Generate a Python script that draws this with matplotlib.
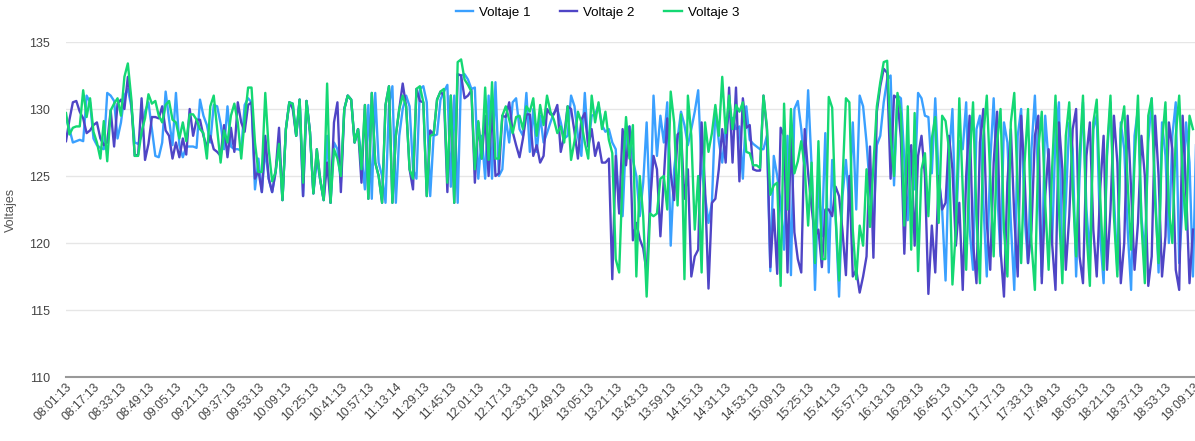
import numpy as np
import matplotlib.pyplot as plt

plt.rcParams['font.family'] = ['Liberation Sans', 'DejaVu Sans']

# voltage readings, one every ~2 minutes
voltaje_1 = [
    129.3, 128.5, 127.5, 127.6, 127.7, 127.6, 131.0, 130.5, 127.8, 127.3,
    127.1, 127.0, 131.2, 131.0, 130.6, 127.8, 129.0, 131.0, 131.5, 130.2,
    127.5, 127.4, 128.0, 129.8, 130.5, 128.5, 126.5, 126.4,
    127.5, 131.3, 129.2, 127.3, 131.2, 127.3, 126.4, 127.2, 127.2, 127.2,
    127.1, 130.7, 129.5, 128.8, 127.5, 130.3, 130.2, 128.9, 127.0, 130.2,
    127.2, 127.0, 127.0, 126.9, 130.3, 130.8, 130.5, 124.0, 126.3,
    123.8, 127.0, 124.8, 123.8, 125.3, 127.4, 123.2, 128.5, 130.5, 130.4,
    128.0, 130.7, 123.5, 130.6, 128.3, 123.7, 126.2, 124.7, 123.2, 128.0,
    123.0, 127.5, 127.0, 124.5, 130.0, 131.0, 130.7, 127.5, 128.5,
    126.5, 124.0, 130.3, 123.3, 131.2, 126.0, 125.0, 123.0, 130.3, 131.7,
    123.0, 128.0, 130.0, 131.0, 130.2, 125.5, 124.8, 131.5, 131.7, 130.5,
    123.5, 128.0, 128.1, 130.7, 131.3, 131.8, 124.2, 131.0, 123.0, 132.5,
    132.6, 132.2, 131.5, 131.6, 124.8, 128.0, 124.8, 131.0, 124.8, 132.0,
    125.0, 125.5, 129.3, 127.5, 130.5, 130.8, 128.5, 128.0, 131.2, 126.8,
    130.0, 126.8, 129.5, 127.5, 128.2, 129.0, 129.7, 130.0, 129.0,
    127.8, 128.0, 131.0, 130.2, 128.0, 126.5, 131.2, 127.2, 129.5, 129.6,
    130.3, 128.8, 128.3, 128.5, 127.5, 127.0, 122.5, 122.0, 128.0, 128.7,
    126.2, 125.0, 122.0, 124.5, 129.0, 122.0, 131.0, 126.5, 129.5,
    127.5, 130.5, 119.8, 125.5, 127.8, 129.8, 128.8, 127.3, 128.5, 129.8,
    131.4, 125.5, 123.5, 121.5, 123.0, 130.0, 127.6, 126.0, 128.5, 129.5,
    129.3, 128.5, 128.7, 124.8, 130.2, 127.7, 127.4, 127.2, 127.0,
    127.0, 128.0, 117.9, 126.5, 125.0, 123.0, 119.5, 128.0, 117.6, 130.0,
    130.6, 128.5, 125.5, 131.4, 125.8, 116.5, 124.5, 120.5, 128.2, 117.8,
    126.2, 122.0, 116.0, 123.5, 126.2, 122.8, 129.0, 122.5, 131.0,
    130.2, 127.5, 124.0, 121.2, 127.3, 128.0, 130.5, 132.2, 132.5, 124.3,
    131.0, 130.8, 126.3, 121.7, 127.0, 124.0, 131.2, 130.8, 129.5, 129.4,
    125.2, 130.8, 124.8, 122.5, 117.2, 126.5, 130.0, 120.5, 127.6,
    127.0, 130.5, 121.0, 118.0, 128.5, 129.5, 123.0, 117.5, 126.0, 130.8,
    124.0, 119.0, 129.0, 127.5, 121.5, 116.5, 128.0, 130.0, 122.0, 118.5,
    127.0, 131.0, 124.5, 117.5, 129.5, 126.0, 120.0, 128.0, 130.5, 118.0,
    123.0, 129.0, 127.0, 117.5, 125.0, 130.5, 122.5, 119.0, 128.5, 129.5,
    120.5, 117.0, 126.5, 130.5, 123.5, 118.0, 129.0, 127.0, 121.0, 116.5,
    128.0, 130.0, 122.0, 119.0, 127.5, 130.8, 124.0, 117.8, 129.0, 126.5,
    120.0, 128.0, 130.5, 118.5, 123.0, 129.0, 126.0, 117.5, 128.5,
]

voltaje_2 = [
    127.6, 129.2, 130.5, 130.6, 129.8, 129.3, 128.2, 128.4, 128.8, 129.0,
    127.8, 127.3, 127.5, 129.9, 127.2, 130.4, 130.7, 130.0, 132.4, 130.5,
    126.5, 126.6, 130.8, 126.2, 127.4, 129.4, 129.4, 129.3,
    130.2, 128.4, 128.0, 126.3, 127.5, 126.4, 127.8, 126.6, 130.0, 128.0,
    129.2, 129.2, 128.0, 127.2, 128.0, 127.0, 126.8, 126.5, 128.8, 126.4,
    128.6, 126.8, 130.5, 129.0, 128.3, 130.3, 130.5, 124.8, 125.4,
    123.8, 128.0, 124.8, 123.8, 125.3, 128.6, 123.2, 128.5, 130.5, 130.0,
    128.0, 130.7, 123.5, 130.6, 128.3, 123.7, 127.0, 124.7, 123.2, 126.0,
    123.0, 129.0, 130.5, 123.8, 130.0, 131.0, 130.7, 127.5, 128.5,
    124.5, 130.3, 123.3, 131.2, 126.0, 125.0, 123.0, 130.3, 131.7,
    123.0, 128.0, 130.0, 131.9, 130.2, 125.5, 124.0, 131.5, 130.6, 130.5,
    123.5, 128.4, 128.1, 130.7, 131.3, 131.0, 123.8, 131.0, 123.0, 132.6,
    132.5, 130.8, 131.0, 131.4, 124.5, 129.0, 126.3, 129.5, 125.0, 130.2,
    125.0, 125.2, 129.5, 129.4, 130.5, 128.3, 127.3, 126.4, 127.8, 129.6,
    129.6, 126.5, 127.3, 126.0, 126.5, 130.0, 129.6, 129.6, 130.3,
    126.8, 128.0, 130.2, 130.0, 128.3, 126.3, 129.2, 129.7, 127.2, 128.5,
    126.5, 127.5, 126.0, 126.0, 126.3, 117.3, 126.5, 122.2, 128.5, 125.8,
    128.7, 120.2, 121.5, 120.3, 119.6, 117.8, 123.0, 126.5, 125.5,
    120.5, 124.8, 129.3, 125.2, 123.2, 128.1, 128.3, 123.3, 125.5, 117.5,
    119.0, 119.5, 129.0, 124.0, 116.6, 123.0, 123.3, 125.5, 128.5, 126.0,
    131.6, 126.0, 131.6, 124.6, 130.8, 128.6, 128.8, 125.5, 125.4,
    125.4, 131.0, 128.5, 118.2, 122.5, 117.7, 128.6, 128.0, 117.8, 128.3,
    120.8, 118.8, 117.8, 128.5, 125.2, 122.7, 120.5, 121.0, 118.2, 122.5,
    122.5, 122.0, 124.2, 123.5, 120.9, 117.6, 125.0, 117.5, 118.0,
    116.3, 117.5, 119.0, 127.2, 118.9, 129.8, 131.7, 133.0, 132.7, 124.8,
    131.0, 130.8, 127.8, 119.2, 126.5, 127.3, 119.8, 126.5, 128.0, 125.0,
    116.2, 121.3, 117.8, 125.0, 122.5, 123.0, 128.0, 125.5, 119.8,
    123.0, 116.5, 125.0, 129.5, 120.0, 117.0, 127.5, 130.0, 121.5, 118.0,
    126.0, 129.8, 119.5, 116.0, 124.5, 128.5, 122.0, 117.5, 129.5, 125.0,
    118.5, 121.0, 128.0, 129.5, 117.0, 123.5, 127.0, 120.0, 116.5, 129.0,
    125.5, 118.0, 122.0, 128.5, 130.0, 119.0, 117.0, 126.5, 129.0, 121.0,
    117.5, 124.0, 128.0, 118.0, 122.5, 129.5, 126.0, 117.0, 120.0, 129.5,
    124.0, 118.0, 121.5, 128.0, 125.0, 116.8, 119.0, 129.5, 125.0, 117.5,
    120.5, 129.0, 127.0, 118.0, 116.5, 129.5, 124.0, 117.0, 121.0,
]

voltaje_3 = [
    129.7, 128.1, 128.6, 128.7, 128.7, 131.4, 129.4, 130.8, 128.3, 127.5,
    126.3, 129.1, 126.1, 129.9, 130.4, 130.8, 129.5, 132.4, 133.4, 130.8,
    126.5, 126.5, 128.3, 129.3, 131.1, 130.4, 130.6, 129.5,
    129.0, 130.3, 130.6, 129.2, 129.0, 127.8, 129.0, 127.6, 129.6, 129.6,
    129.2, 128.5, 128.2, 126.3, 130.2, 131.0, 128.5, 126.0, 128.4, 127.5,
    129.5, 130.4, 129.0, 126.3, 129.2, 131.6, 131.6, 127.5, 125.3,
    125.3, 131.2, 127.0, 124.6, 125.3, 127.4, 123.2, 128.5, 130.5, 130.4,
    128.0, 130.7, 124.5, 130.6, 128.3, 123.7, 127.0, 124.7, 123.2, 131.9,
    123.0, 127.0, 126.3, 125.0, 130.0, 131.0, 130.7, 127.5, 128.5,
    125.5, 130.3, 123.3, 131.2, 126.0, 125.0, 123.0, 130.3, 131.7,
    123.0, 128.0, 130.0, 131.0, 130.2, 125.5, 124.8, 131.5, 131.7, 130.5,
    123.5, 128.0, 128.1, 130.7, 131.3, 131.5, 124.5, 131.0, 123.0, 133.5,
    133.7, 132.2, 131.8, 131.3, 125.5, 129.1, 126.3, 131.6, 126.2, 132.0,
    126.3, 126.3, 129.5, 130.2, 129.2, 128.2, 129.4, 129.5, 128.5, 130.2,
    129.8, 130.8, 128.0, 130.3, 128.8, 131.0, 129.8, 129.2, 128.2,
    128.7, 127.5, 130.2, 126.2, 127.6, 129.8, 129.0, 127.5, 126.3, 131.0,
    129.0, 130.5, 128.5, 129.8, 127.7, 126.7, 118.8, 117.8, 125.0, 129.4,
    126.3, 128.8, 117.5, 125.0, 122.0, 116.0, 122.2, 122.0, 122.2,
    124.8, 125.0, 122.5, 131.3, 129.0, 122.8, 129.6, 117.3, 131.0, 128.0,
    121.0, 125.0, 117.8, 129.0, 126.8, 128.2, 130.3, 128.0, 132.4, 128.2,
    131.0, 128.5, 130.3, 129.8, 130.5, 126.8, 126.7, 125.8, 125.8,
    125.6, 131.0, 128.7, 123.6, 124.3, 124.5, 116.8, 130.4, 122.5, 130.0,
    125.2, 126.1, 127.6, 125.7, 121.3, 126.0, 118.5, 127.6, 118.8, 118.8,
    130.9, 130.1, 122.0, 117.2, 124.5, 130.8, 130.5, 121.0, 117.3,
    121.3, 119.8, 125.5, 121.2, 125.8, 130.2, 132.0, 133.5, 133.6, 128.0,
    125.0, 131.2, 129.7, 121.3, 130.2, 119.5, 129.7, 117.9, 125.5, 126.7,
    122.0, 127.8, 129.4, 121.5, 129.5, 129.1, 127.0, 116.9, 121.0,
    130.8, 124.0, 118.0, 126.0, 130.5, 122.0, 117.0, 128.0, 131.0, 125.0,
    119.0, 127.5, 130.0, 121.0, 117.5, 129.0, 131.2, 124.0, 118.5, 126.0,
    130.0, 120.0, 116.5, 127.0, 129.8, 123.0, 118.0, 125.5, 131.0, 122.5,
    117.0, 128.0, 130.5, 124.0, 119.0, 126.5, 131.0, 121.0, 116.8, 129.0,
    130.7, 123.5, 118.0, 127.0, 131.0, 122.0, 117.5, 128.5, 130.2, 124.5,
    119.5, 126.0, 131.0, 121.5, 117.0, 129.5, 130.8, 123.0, 118.5, 127.5,
    130.5, 122.5, 120.0, 128.0, 131.0, 125.0, 121.0, 129.5, 128.5,
]

# every 8th reading gets a time label
tick_labels = [
    '08:01:13', '08:17:13', '08:33:13', '08:49:13', '09:05:13', '09:21:13',
    '09:37:13', '09:53:13', '10:09:13', '10:25:13', '10:41:13', '10:57:13',
    '11:13:14', '11:29:13', '11:45:13', '12:01:13', '12:17:13', '12:33:13',
    '12:49:13', '13:05:13', '13:21:13', '13:43:13', '13:59:13', '14:15:13',
    '14:31:13', '14:53:13', '15:09:13', '15:25:13', '15:41:13', '15:57:13',
    '16:13:13', '16:29:13', '16:45:13', '17:01:13', '17:17:13', '17:33:13',
    '17:49:13', '18:05:13', '18:21:13', '18:37:13', '18:53:13', '19:09:13',
]

series = [('Voltaje 1', voltaje_1, '#3aa0ff'),
          ('Voltaje 2', voltaje_2, '#4f45c6'),
          ('Voltaje 3', voltaje_3, '#14d873')]

fig = plt.figure(figsize=(11.95, 4.41), dpi=100)
ax = fig.add_axes([66 / 1195, 64 / 441, 1129 / 1195, 335 / 441])

for name, vals, col in series:
    x = np.arange(len(vals))
    ax.plot(x, vals, color=col, lw=1.7, label=name, solid_joinstyle='round')

ax.set_ylim(110, 135)
ax.set_yticks([110, 115, 120, 125, 130, 135])
ax.set_xlim(0, 328.6)
ax.set_xticks(np.arange(len(tick_labels)) * 8)
ax.set_xticklabels(tick_labels, rotation=45, ha='right', va='top',
                   rotation_mode='anchor', fontsize=8.8, color='#444444')
ax.tick_params(axis='x', length=0, pad=3)
ax.tick_params(axis='y', length=0, pad=11.5, labelsize=9, labelcolor='#444444')

ax.grid(axis='y', color='#e6e6e6', lw=1)
ax.set_axisbelow(True)
for s in ['top', 'right', 'left']:
    ax.spines[s].set_visible(False)
ax.spines['bottom'].set_color('#999999')
ax.spines['bottom'].set_linewidth(1.5)

ax.set_ylabel('Voltajes', fontsize=9, color='#555555', labelpad=9)

fig.legend(loc='upper center', bbox_to_anchor=(0.5, 1.012), ncol=3, frameon=False,
           handlelength=1.3, handletextpad=0.45, columnspacing=2.2, fontsize=9.6)

fig.savefig('out.png', dpi=100)
